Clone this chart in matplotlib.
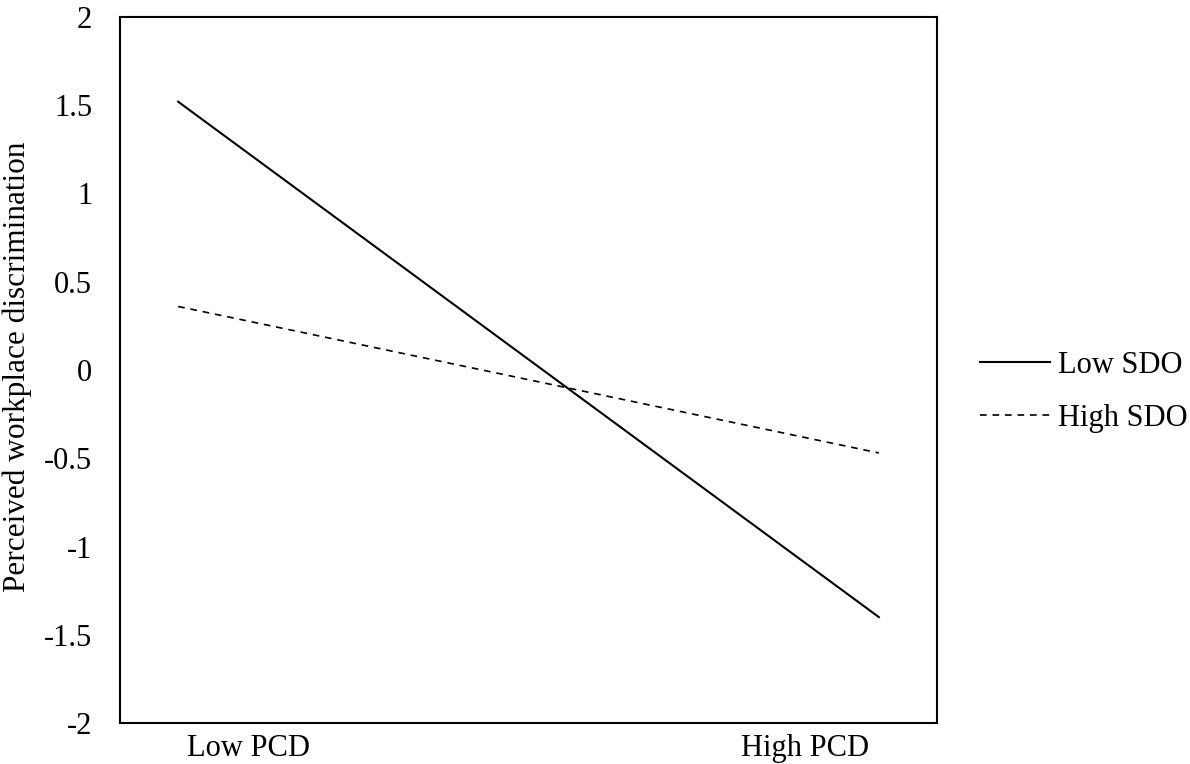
import matplotlib
matplotlib.use("Agg")
import matplotlib.pyplot as plt

categories = ["Low PCD", "High PCD"]
low_sdo = [1.52, -1.40]
high_sdo = [0.36, -0.47]
yticks = [-2, -1.5, -1, -0.5, 0, 0.5, 1, 1.5, 2]
ytick_labels = ["-2", "-1.5", "-1", "-0.5", "0", "0.5", "1", "1.5", "2"]

FS = 22
plt.rcParams['font.family'] = ['Liberation Serif', 'DejaVu Serif']
plt.rcParams['font.size'] = FS

fig = plt.figure(figsize=(11.9, 7.64), dpi=100)
ax = fig.add_axes([120/1190, 1-723/764, (937-120)/1190, (723-17)/764])

x = [0, 1]
ax.plot(x, low_sdo, color='black', lw=1.5, ls='-', label='Low SDO')
ax.plot(x, high_sdo, color='black', lw=1.2, ls=(0, (4, 3.5)), label='High SDO')

ax.set_xlim(-0.083, 1.083)
ax.set_ylim(-2, 2)
ax.set_yticks(yticks)
ax.set_yticklabels(ytick_labels)
ax.set_xticks([0.10, 0.895])
ax.set_xticklabels(categories)
ax.tick_params(axis='both', length=0, labelsize=FS, colors='black')
ax.tick_params(axis='y', pad=20)
ax.tick_params(axis='x', pad=8)
for s in ax.spines.values():
    s.set_linewidth(1.5)
    s.set_color('black')

fig.text(17/1190, 1-367/764, "Perceived workplace discrimination", rotation=90,
         ha='center', va='center', fontsize=22.5)

leg = ax.legend(loc='center left', bbox_to_anchor=(1.0526, 0.469), frameon=False,
                fontsize=FS, handlelength=2.3, handletextpad=0.25, labelspacing=0.8,
                borderpad=0, borderaxespad=0)

fig.savefig("out.png", dpi=100)
